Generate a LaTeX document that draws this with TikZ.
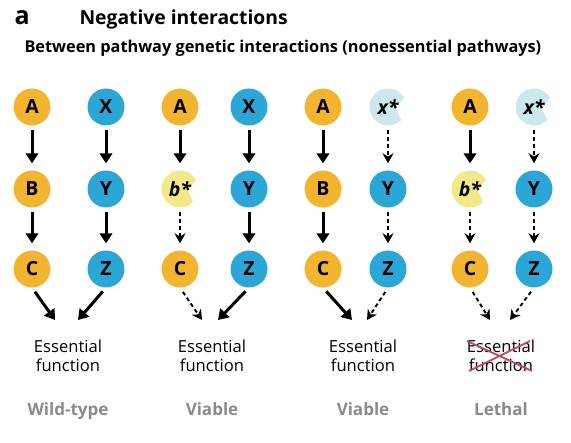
\documentclass[tikz,border=0pt]{standalone}
\usepackage{fontspec}
\setmainfont{Open Sans}
\usetikzlibrary{arrows.meta}

\definecolor{geneA}{HTML}{F3B530}
\definecolor{geneX}{HTML}{2CA6D6}
\definecolor{mutB}{HTML}{F2EA8A}
\definecolor{mutX}{HTML}{CDE8EC}
\definecolor{outcome}{HTML}{8A8A8A}
\definecolor{crossred}{HTML}{BE4A5C}

\tikzset{
  gene/.style={circle, minimum size=37pt, inner sep=0pt, font=\fontsize{19.5}{19.5}\selectfont\bfseries},
  mutant/.style={gene, font=\fontsize{19.5}{19.5}\selectfont\bfseries\itshape,
    path picture={\fill[white] ([shift={(8pt,-1pt)}]path picture bounding box.center) -- ++(16pt,20pt) -- ++(-6pt,-44pt) -- cycle;}},
  act/.style={line width=3pt, -{Triangle[width=12.5pt,length=10pt]}, shorten <=4.5pt, shorten >=7pt},
  lost/.style={line width=1.9pt, dash pattern=on 4pt off 3pt, -{Stealth[width=11pt,length=10pt]}, shorten <=4.5pt, shorten >=7pt},
  ess/.style={align=center, font=\fontsize{16.6}{19}\selectfont},
  status/.style={anchor=base, text=outcome, font=\fontsize{17}{17}\selectfont\bfseries},
  xmark/.style={crossred, line width=1.8pt}
}

\begin{document}
\begin{tikzpicture}[x=1pt,y=1pt]
\useasboundingbox (0,0) rectangle (571,443);

\node[anchor=base west, font=\fontsize{25}{25}\selectfont\bfseries] (panel) at (11,418) {a};
\node[anchor=base west, font=\fontsize{19.3}{19.3}\selectfont\bfseries] (title) at (76,418) {Negative interactions};
\node[anchor=base west, font=\fontsize{16.3}{16.3}\selectfont\bfseries] (sub) at (21,390) {Between pathway genetic interactions (nonessential pathways)};

% genes common to every panel
\foreach \i/\xa/\xx in {1/32/106, 2/180/249, 3/323/388, 4/470/534}
{
    \node[gene, fill=geneA] (A\i) at (\xa,336) {A};
    \node[gene, fill=geneA] (C\i) at (\xa,174) {C};
    \node[gene, fill=geneX] (Y\i) at (\xx,254) {Y};
    \node[gene, fill=geneX] (Z\i) at (\xx,174) {Z};
}
\node[gene, fill=geneA] (B1) at (32,254) {B};
\node[mutant, fill=mutB] (B2) at (180,254) {b*};
\node[gene, fill=geneA] (B3) at (323,254) {B};
\node[mutant, fill=mutB] (B4) at (470,254) {b*};
\node[gene, fill=geneX] (X1) at (106,336) {X};
\node[gene, fill=geneX] (X2) at (249,336) {X};
\node[mutant, fill=mutX] (X3) at (388,336) {x*};
\node[mutant, fill=mutX] (X4) at (534,336) {x*};

% outputs
\node[ess] (ef1) at (68,87) {Essential\\function};
\node[ess] (ef2) at (212,87) {Essential\\function};
\node[ess] (ef3) at (363,87) {Essential\\function};
\node[ess] (ef4) at (501,87) {Essential\\function};
\node[status] (s1) at (68,27) {Wild-type};
\node[status] (s2) at (212,27) {Viable};
\node[status] (s3) at (363,27) {Viable};
\node[status] (s4) at (501,27) {Lethal};

\coordinate (t1a) at (55,123);  \coordinate (t1b) at (78,123);
\coordinate (t2a) at (202,123); \coordinate (t2b) at (218,123);
\coordinate (t3a) at (352,123); \coordinate (t3b) at (367,123);
\coordinate (t4a) at (490,123); \coordinate (t4b) at (510,123);

% wild-type
\draw[act] (A1) -- (B1);
\draw[act] (B1) -- (C1);
\draw[act] (X1) -- (Y1);
\draw[act] (Y1) -- (Z1);
\draw[act, shorten <=5pt, shorten >=0pt] (C1.south) -- (t1a);
\draw[act, shorten <=5pt, shorten >=0pt] (Z1.south) -- (t1b);
% b*
\draw[act] (A2) -- (B2);
\draw[lost] (B2) -- (C2);
\draw[act] (X2) -- (Y2);
\draw[act] (Y2) -- (Z2);
\draw[lost, shorten <=5pt, shorten >=0pt] (C2.south) -- (t2a);
\draw[act, shorten <=5pt, shorten >=0pt] (Z2.south) -- (t2b);
% x*
\draw[act] (A3) -- (B3);
\draw[act] (B3) -- (C3);
\draw[lost] (X3) -- (Y3);
\draw[lost] (Y3) -- (Z3);
\draw[act, shorten <=5pt, shorten >=0pt] (C3.south) -- (t3a);
\draw[lost, shorten <=5pt, shorten >=0pt] (Z3.south) -- (t3b);
% b* x*
\draw[act] (A4) -- (B4);
\draw[lost] (B4) -- (C4);
\draw[lost] (X4) -- (Y4);
\draw[lost] (Y4) -- (Z4);
\draw[lost, shorten <=5pt, shorten >=0pt] (C4.south) -- (t4a);
\draw[lost, shorten <=5pt, shorten >=0pt] (Z4.south) -- (t4b);

\draw[xmark] (ef4.center) ++(-34,15) -- ++(65,-30);
\draw[xmark] (ef4.center) ++(-32,-15) -- ++(61,30);
\end{tikzpicture}
\end{document}
